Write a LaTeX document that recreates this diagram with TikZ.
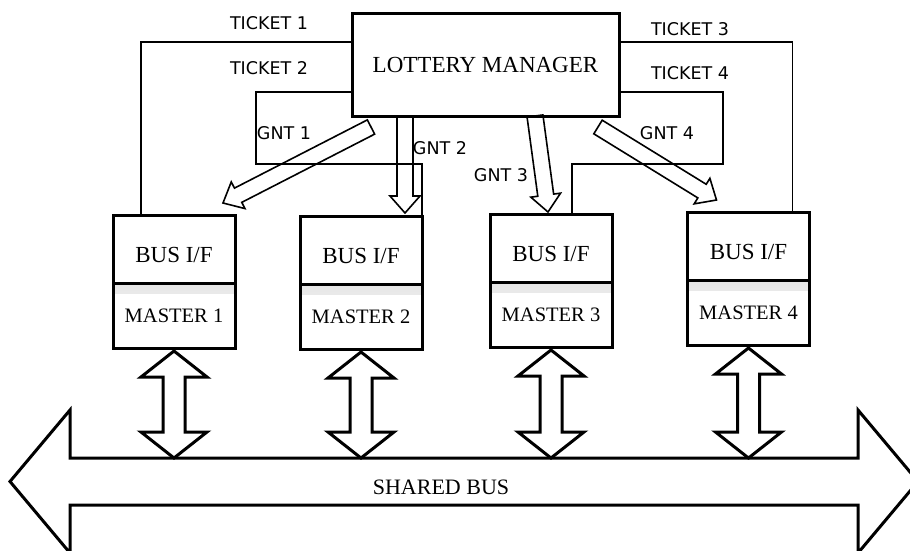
\documentclass[tikz,border=0pt]{standalone}
\usepackage{fontspec}
\setmainfont{Liberation Serif}
\newfontfamily\lblfont{DejaVu Sans}
\usetikzlibrary{positioning,calc}
\definecolor{boxInk}{RGB}{0,0,0}

% hollow block arrow: from, to, shaft half width, head half width, head length
\newcommand{\gntarrow}[5]{%
  \coordinate (ga-n) at ($(#2)!#5!(#1)$);
  \draw[gnt] ($(#1)!#3!90:(#2)$) -- ($(ga-n)!#3!90:(#2)$) -- ($(ga-n)!#4!90:(#2)$) -- (#2)
    -- ($(ga-n)!#4!-90:(#2)$) -- ($(ga-n)!#3!-90:(#2)$) -- ($(#1)!#3!-90:(#2)$) -- cycle;}
% hollow double headed block arrow, same arguments
\newcommand{\dblarrow}[5]{%
  \coordinate (da-a) at ($(#1)!#5!(#2)$);
  \coordinate (da-b) at ($(#2)!#5!(#1)$);
  \draw[busarrow] (#1) -- ($(da-a)!#4!90:(#2)$) -- ($(da-a)!#3!90:(#2)$) -- ($(da-b)!#3!90:(#2)$)
    -- ($(da-b)!#4!90:(#2)$) -- (#2) -- ($(da-b)!#4!-90:(#2)$) -- ($(da-b)!#3!-90:(#2)$)
    -- ($(da-a)!#3!-90:(#2)$) -- ($(da-a)!#4!-90:(#2)$) -- cycle;}

\begin{document}
\begin{tikzpicture}[
  x=1pt, y=-1pt,
  mgr/.style   ={draw=boxInk, line width=3pt, minimum width=267pt, minimum height=103pt,
                 inner sep=0pt, outer sep=0pt, font=\fontsize{23}{27}\selectfont},
  busif/.style ={draw=boxInk, line width=3pt, minimum width=122pt, minimum height=68pt,
                 inner sep=0pt, outer sep=0pt, text height=27pt, text depth=0pt,
                 font=\fontsize{23}{27}\selectfont},
  mst/.style   ={busif, minimum height=65pt, text height=14pt,
                 font=\fontsize{20.5}{24}\selectfont,
                 path picture={\shade[top color=black!10, bottom color=white]
                   (path picture bounding box.north west) rectangle
                   ([yshift=-10pt]path picture bounding box.north east);}},
  tkt/.style   ={draw=boxInk, line width=1.3pt},
  gnt/.style   ={draw=boxInk, line width=1.6pt, line join=miter},
  busarrow/.style={draw=boxInk, line width=3pt, line join=miter},
  lbl/.style   ={inner sep=0pt, font=\lblfont\fontsize{17.5}{21}\selectfont},
  buslbl/.style={inner sep=0pt, font=\fontsize{22}{26}\selectfont},
]
\clip (0,0) rectangle (910,550);

% ============ LOTTERY MANAGER ============
\node[mgr] (lm) at (485.5,64.5) {LOTTERY MANAGER};

% ============ MASTERS ============
\node[busif] (bif1) at (174,249)   {BUS I/F};
\node[busif] (bif2) at (361,250)   {BUS I/F};
\node[busif] (bif3) at (551,248)   {BUS I/F};
\node[busif] (bif4) at (748.5,246) {BUS I/F};
\node[mst, below=0pt of bif1] (m1) {MASTER 1};
\node[mst, below=0pt of bif2] (m2) {MASTER 2};
\node[mst, below=0pt of bif3] (m3) {MASTER 3};
\node[mst, below=0pt of bif4] (m4) {MASTER 4};

% ============ TICKETS ============
\coordinate (t2k) at (256,164);
\coordinate (t4k) at (723,164);
\draw[tkt] ([yshift=-29pt]lm.north west) -| ([xshift=28pt]bif1.north west);
\draw[tkt] ([yshift=-79pt]lm.north west) -| (t2k) -| (bif2.north east);
\draw[tkt] ([yshift=-29pt]lm.north east) -| ([xshift=-17pt]bif4.north east);
\draw[tkt] ([yshift=-79pt]lm.north east) -| (t4k) -| ([xshift=-40pt]bif3.north east);

\node[lbl] (tk1) at (269,23) {TICKET 1};
\node[lbl] (tk2) at (269,68) {TICKET 2};
\node[lbl] (tk3) at (690,29) {TICKET 3};
\node[lbl] (tk4) at (690,73) {TICKET 4};

% ============ GRANTS ============
\coordinate (g1s) at ($(lm.south west)+(19,11)$);
\coordinate (g2s) at ($(lm.south west)+(53,0)$);
\coordinate (g3s) at ($(lm.south west)+(183,0)$);
\coordinate (g4s) at ($(lm.south west)+(246,11)$);
\coordinate (g1e) at ($(bif1.north east)+(-12,-12)$);
\coordinate (g2e) at ($(bif2.north east)+(-17,-3)$);
\coordinate (g3e) at ($(bif3.north)+(-3,-2)$);
\coordinate (g4e) at ($(bif4.north west)+(29,-12)$);
\gntarrow{g1s}{g1e}{8pt}{15pt}{17pt}
\gntarrow{g2s}{g2e}{8pt}{15pt}{17pt}
\gntarrow{g3s}{g3e}{8pt}{15pt}{17pt}
\gntarrow{g4s}{g4e}{8pt}{15pt}{17pt}

\node[lbl] (gn1) at (284,133) {GNT 1};
\node[lbl] (gn2) at (440,148) {GNT 2};
\node[lbl] (gn3) at (501,175) {GNT 3};
\node[lbl] (gn4) at (667,133) {GNT 4};

% ============ SHARED BUS ============
\coordinate (busL) at (10,481.5);
\coordinate (busR) at (918,481.5);
\coordinate (bustop) at (0,458);
\dblarrow{busL}{busR}{23.5pt}{71.5pt}{60pt}
\node[buslbl] (sb) at (441,487) {SHARED BUS};

\foreach \i in {1,...,4}{
  \coordinate (up\i) at ([yshift=-3pt]m\i.south);
  \coordinate (dn\i) at (m\i.south |- bustop);
  \dblarrow{up\i}{dn\i}{11pt}{33pt}{26pt}
}

\end{tikzpicture}
\end{document}
